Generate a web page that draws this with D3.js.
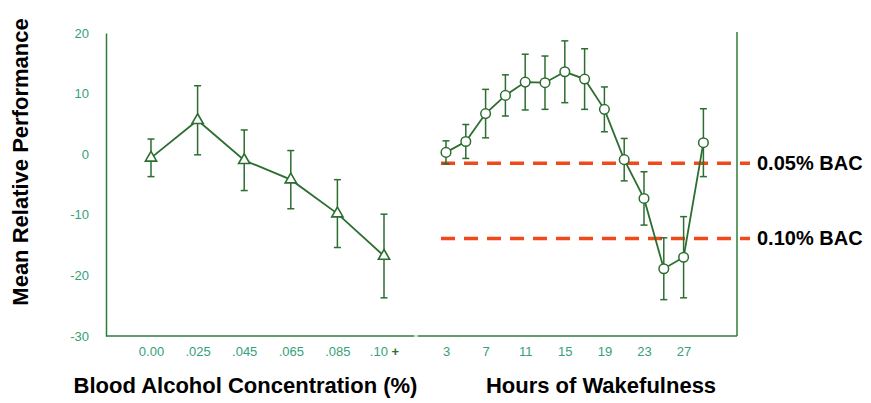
<!DOCTYPE html>
<html>
<head>
<meta charset="utf-8">
<script src="https://cdn.jsdelivr.net/npm/d3@7"></script>
<style>
  body { margin: 0; background: #fff; }
  svg { display: block; font-family: "Liberation Sans", Arial, sans-serif; }
</style>
</head>
<body>
<svg id="chart" width="871" height="403"></svg>
<script>
// BAC panel
const bacLabels = ["0.00", ".025", ".045", ".065", ".085", ".10 +"];
const bacMeans  = [-0.6, 5.6, -1.0, -4.2, -9.8, -16.8];
const bacErrors = [3.1, 5.7, 5.0, 4.8, 5.6, 6.9];

// wakefulness panel
const wakeHours  = [3, 5, 7, 9, 11, 13, 15, 17, 19, 21, 23, 25, 27, 29];
const wakeMeans  = [0.3, 2.1, 6.7, 9.7, 11.9, 11.8, 13.6, 12.4, 7.4, -0.9, -7.3, -18.9, -17.0, 1.9];
const wakeErrors = [1.9, 2.8, 4.0, 3.4, 4.6, 4.4, 5.1, 5.0, 3.7, 3.5, 4.4, 5.1, 6.7, 5.6];
const wakeTicks  = [3, 7, 11, 15, 19, 23, 27];

// reference lines
const bacRefs = [{ value: -1.5, label: "0.05% BAC" }, { value: -13.9, label: "0.10% BAC" }];
const yTicks = [-30, -20, -10, 0, 10, 20];

const green = "#2c6e2f";
const axisGreen = "#2f7d3a";
const tickGreen = "#35a07a";

const svg = d3.select("#chart");

const y = d3.scaleLinear().domain([-30, 20]).range([336, 33]);
const xBac = d3.scalePoint().domain(bacLabels).range([151, 384]);
const xWake = d3.scaleLinear().domain([3, 29]).range([446, 703.4]);

// y axis
const yAxis = svg.append("g")
    .attr("transform", "translate(106,0)")
    .call(d3.axisLeft(y).tickValues(yTicks).tickFormat(d => String(d)).tickSize(0).tickPadding(17));
yAxis.select(".domain").attr("stroke", axisGreen).attr("stroke-width", 1.5);
yAxis.selectAll("text").attr("fill", tickGreen).style("font-size", "13px");

// bottom lines + right line
svg.append("line").attr("x1", 106).attr("x2", 414).attr("y1", 336).attr("y2", 336)
    .attr("stroke", axisGreen).attr("stroke-width", 1.5);
svg.append("line").attr("x1", 414).attr("x2", 418).attr("y1", 336).attr("y2", 336)
    .attr("stroke", "#ccc").attr("stroke-width", 1.5);
svg.append("line").attr("x1", 418).attr("x2", 737).attr("y1", 336).attr("y2", 336)
    .attr("stroke", axisGreen).attr("stroke-width", 1.5);
svg.append("line").attr("x1", 737).attr("x2", 737).attr("y1", 32).attr("y2", 336)
    .attr("stroke", axisGreen).attr("stroke-width", 1.5);

// x tick labels
const bacAxis = svg.append("g").attr("transform", "translate(0,336)")
    .call(d3.axisBottom(xBac).tickSize(0).tickPadding(11));
bacAxis.select(".domain").remove();
bacAxis.selectAll("text").attr("fill", tickGreen).style("font-size", "13px")
    .each(function (d) {
        if (d.endsWith("+")) {
            const t = d3.select(this).text(d.slice(0, -1));
            t.append("tspan").attr("fill", green).attr("font-weight", "bold").text("+");
        }
    });

const wakeAxis = svg.append("g").attr("transform", "translate(0,336)")
    .call(d3.axisBottom(xWake).tickValues(wakeTicks).tickSize(0).tickPadding(11));
wakeAxis.select(".domain").remove();
wakeAxis.selectAll("text").attr("fill", tickGreen).style("font-size", "13px");

// reference dashed lines
svg.selectAll(".ref").data(bacRefs).join("line")
    .attr("class", "ref")
    .attr("x1", 441).attr("x2", 750)
    .attr("y1", d => y(d.value)).attr("y2", d => y(d.value))
    .attr("stroke", "#f04a1c").attr("stroke-width", 3.5)
    .attr("stroke-dasharray", "14,9");
svg.selectAll(".refLabel").data(bacRefs).join("text")
    .attr("class", "refLabel")
    .attr("x", 757).attr("y", d => y(d.value) + 7)
    .attr("font-weight", "bold").style("font-size", "20px")
    .attr("fill", "#000")
    .text(d => d.label);

const errorBars = (g, data, xf) => {
    const cap = 3.5;
    const eb = g.append("g").attr("stroke", green).attr("stroke-width", 1.5);
    eb.selectAll("line.v").data(data).join("line").attr("class", "v")
        .attr("x1", d => xf(d)).attr("x2", d => xf(d))
        .attr("y1", d => y(d.m + d.e)).attr("y2", d => y(d.m - d.e));
    eb.selectAll("line.t").data(data).join("line").attr("class", "t")
        .attr("x1", d => xf(d) - cap).attr("x2", d => xf(d) + cap)
        .attr("y1", d => y(d.m + d.e)).attr("y2", d => y(d.m + d.e));
    eb.selectAll("line.b").data(data).join("line").attr("class", "b")
        .attr("x1", d => xf(d) - cap).attr("x2", d => xf(d) + cap)
        .attr("y1", d => y(d.m - d.e)).attr("y2", d => y(d.m - d.e));
}

// BAC series
const bacData = bacLabels.map((l, i) => ({ k: l, m: bacMeans[i], e: bacErrors[i] }));
const bacX = d => xBac(d.k);
errorBars(svg, bacData, bacX);
svg.append("path").datum(bacData)
    .attr("fill", "none").attr("stroke", green).attr("stroke-width", 1.8)
    .attr("d", d3.line().x(bacX).y(d => y(d.m)));
svg.selectAll(".tri").data(bacData).join("path")
    .attr("class", "tri")
    .attr("transform", d => `translate(${bacX(d)},${y(d.m)})`)
    .attr("d", d3.symbol(d3.symbolTriangle).size(55))
    .attr("fill", "#fff").attr("stroke", green).attr("stroke-width", 1.6);

// wakefulness series
const wakeData = wakeHours.map((h, i) => ({ k: h, m: wakeMeans[i], e: wakeErrors[i] }));
const wakeX = d => xWake(d.k);
errorBars(svg, wakeData, wakeX);
svg.append("path").datum(wakeData)
    .attr("fill", "none").attr("stroke", green).attr("stroke-width", 1.8)
    .attr("d", d3.line().x(wakeX).y(d => y(d.m)));
svg.selectAll(".dot").data(wakeData).join("circle")
    .attr("class", "dot")
    .attr("cx", wakeX).attr("cy", d => y(d.m)).attr("r", 4.8)
    .attr("fill", "#fff").attr("stroke", green).attr("stroke-width", 1.5);

// titles
svg.append("text")
    .attr("transform", "translate(28,162) rotate(-90)")
    .attr("text-anchor", "middle").attr("font-weight", "bold")
    .style("font-size", "22px").text("Mean Relative Performance");
svg.append("text")
    .attr("x", 245.5).attr("y", 393)
    .attr("text-anchor", "middle").attr("font-weight", "bold")
    .style("font-size", "22px").text("Blood Alcohol Concentration (%)");
svg.append("text")
    .attr("x", 601).attr("y", 393)
    .attr("text-anchor", "middle").attr("font-weight", "bold")
    .style("font-size", "22px").text("Hours of Wakefulness");
</script>
</body>
</html>
